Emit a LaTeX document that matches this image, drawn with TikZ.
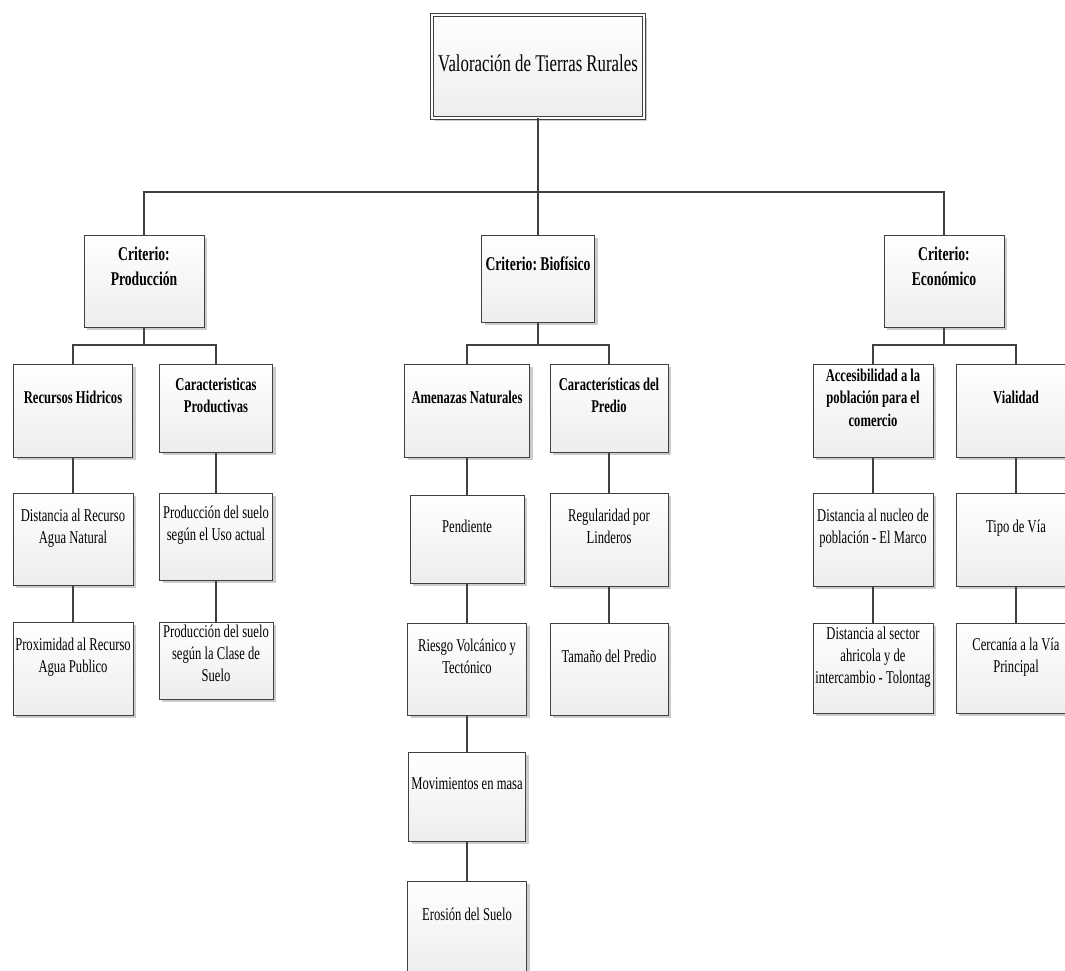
\documentclass[tikz,border=0pt]{standalone}
\usepackage{fontspec}
\setmainfont{Liberation Serif}[FakeStretch=0.7]
\usepackage{xcolor}
\usepackage{tikz}
\usetikzlibrary{shadows}
\frenchspacing

\definecolor{linea}{HTML}{404040}

\tikzset{
  caja/.style={draw=linea, line width=1pt, inner sep=0pt, align=center,
    top color=white, bottom color=gray!14,
    drop shadow={shadow xshift=3pt, shadow yshift=-3pt, fill=black!20, opacity=1},
    minimum width=119pt, minimum height=92pt,
    font=\fontsize{18}{22}\selectfont, text depth=26pt},
  raiz/.style={caja, double=white, double distance=1.6pt, line width=0.8pt,
    minimum width=212pt, minimum height=103pt,
    font=\fontsize{24}{28}\selectfont, text depth=6pt},
  criterio/.style={caja, minimum width=120pt,
    font=\fontsize{19.5}{25}\selectfont\bfseries, text depth=30pt},
  subcriterio/.style={caja, font=\fontsize{18}{22.5}\selectfont\bfseries},
  hojavar/.style={caja},
  conector/.style={draw=linea, line width=1.1pt}
}

\begin{document}
\begin{tikzpicture}[x=1pt, y=-1pt]
  % ----- Hoja: mismo tamaño que la imagen -----
  \useasboundingbox (0,0) rectangle (1065,970);
  \clip (0,0) rectangle (1065,970);

  % ----- Raiz -----
  \node[raiz] (val) at (538,66.5) {Valoración de Tierras Rurales};

  % ----- Criterios -----
  \node[criterio] (prod) at (144,281) {Criterio:\\Producción};
  \node[criterio, minimum width=113pt, minimum height=87pt] (bio) at (538,278.5) {Criterio: Biofísico};
  \node[criterio] (eco) at (944,281) {Criterio:\\Económico};

  % ----- Subcriterios -----
  \node[subcriterio, minimum height=93pt] (hid) at (73,410.5) {Recursos Hidricos};
  \node[subcriterio, minimum width=113pt, minimum height=88pt] (cprod) at (216,408) {Caracteristicas\\Productivas};
  \node[subcriterio, minimum width=125pt, minimum height=93pt] (amen) at (467,410.5) {Amenazas Naturales};
  \node[subcriterio, minimum width=118pt, minimum height=88pt] (cpred) at (609,408) {Características del\\Predio};
  \node[subcriterio, minimum width=120pt, minimum height=93pt] (acc) at (873,410.5) {Accesibilidad a la\\población para el\\comercio};
  \node[subcriterio, minimum width=120pt, minimum height=93pt] (vial) at (1016,410.5) {Vialidad};

  % ----- Variables: Produccion -----
  \node[hojavar, minimum width=120pt] (dist) at (73,539) {Distancia al Recurso\\Agua Natural};
  \node[hojavar, minimum width=120pt, minimum height=93pt] (prox) at (73,668.5) {Proximidad al Recurso\\Agua Publico};
  \node[hojavar, minimum width=113pt, minimum height=87pt] (uso) at (216,536.5) {Producción del suelo\\según el Uso actual};
  \node[hojavar, minimum width=114pt, minimum height=77pt, text depth=14pt] (clase) at (216,660.5) {Producción del suelo\\según la Clase de\\Suelo};

  % ----- Variables: Biofisico -----
  \node[hojavar, minimum width=114pt, minimum height=88pt] (pend) at (467,539) {Pendiente};
  \node[hojavar] (riesgo) at (467,669) {Riesgo Volcánico y\\Tectónico};
  \node[hojavar, minimum width=117pt, minimum height=89pt] (mov) at (467,796.5) {Movimientos en masa};
  \node[hojavar, minimum height=92pt] (eros) at (467,927) {Erosión del Suelo};
  \node[hojavar, minimum width=118pt, minimum height=93pt] (reg) at (609,539.5) {Regularidad por\\Linderos};
  \node[hojavar, minimum width=118pt] (tam) at (609,669) {Tamaño del Predio};

  % ----- Variables: Economico -----
  \node[hojavar, minimum width=120pt, minimum height=93pt] (nuc) at (873,539.5) {Distancia al nucleo de\\población - El Marco};
  \node[hojavar, minimum width=120pt, minimum height=90pt] (sect) at (873,668) {Distancia al sector\\ahricola y de\\intercambio - Tolontag};
  \node[hojavar, minimum width=120pt, minimum height=93pt] (tipo) at (1016,539.5) {Tipo de Vía};
  \node[hojavar, minimum width=120pt, minimum height=90pt] (cerc) at (1016,668) {Cercanía a la Vía\\Principal};

  % ----- Conectores -----
  \coordinate (bus1) at (0,192);
  \coordinate (bus2) at (0,345);
  \draw[conector] (val.south) -- (val.south |- bus1) -| (prod.north);
  \draw[conector] (val.south |- bus1) -| (eco.north);
  \draw[conector] (val.south) -- (bio.north);

  \draw[conector] (prod.south) -- (prod.south |- bus2) -| (hid.north);
  \draw[conector] (prod.south |- bus2) -| (cprod.north);
  \draw[conector] (bio.south) -- (bio.south |- bus2) -| (amen.north);
  \draw[conector] (bio.south |- bus2) -| (cpred.north);
  \draw[conector] (eco.south) -- (eco.south |- bus2) -| (acc.north);
  \draw[conector] (eco.south |- bus2) -| (vial.north);

  \draw[conector] (hid) -- (dist) -- (prox);
  \draw[conector] (cprod) -- (uso) -- (clase);
  \draw[conector] (amen) -- (pend) -- (riesgo) -- (mov) -- (eros);
  \draw[conector] (cpred) -- (reg) -- (tam);
  \draw[conector] (acc) -- (nuc) -- (sect);
  \draw[conector] (vial) -- (tipo) -- (cerc);
\end{tikzpicture}
\end{document}
